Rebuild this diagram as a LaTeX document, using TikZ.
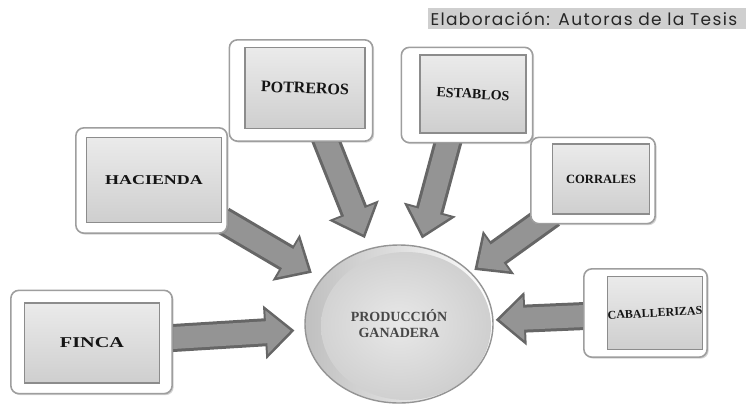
\documentclass[tikz,border=0pt]{standalone}
\usepackage{fontspec}
\setmainfont{Liberation Serif}
\newfontfamily\capfont[LetterSpace=8]{Poppins}
\usetikzlibrary{arrows.meta,shapes.geometric,shadows}
\pgfdeclarelayer{arrowlayer}
\pgfdeclarelayer{framelayer}
\pgfsetlayers{arrowlayer,framelayer,main}
\begin{document}
\begin{tikzpicture}[x=1pt,y=-1pt,
  face/.style={rectangle, inner sep=0pt, top color=black!8, bottom color=black!19,
    draw=black!45, line width=1.3pt, font=\bfseries, text=black!92},
  frame/.style={fill=white, draw=black!38, line width=1.6pt, rounded corners=8pt,
    drop shadow={opacity=0.35, shadow xshift=1.5pt, shadow yshift=-1.5pt}},
  fatout/.style={draw=black!60, line width=28pt, -{Triangle[length=30pt,width=52pt]}},
  fatin/.style={draw=black!42, line width=22pt, -{Triangle[length=24pt,width=42pt]}},
  hub/.style={ellipse, minimum width=188pt, minimum height=158pt, inner sep=0pt,
    left color=black!25, right color=white, draw=black!42, line width=1.4pt,
    path picture={\shade[inner color=black!9, outer color=black!19]
      ([xshift=7pt,yshift=-2pt]path picture bounding box.center)
      ellipse [x radius=85pt, y radius=74pt];},
    font=\fontsize{14}{16}\selectfont\bfseries, text=black!72, align=center},
  capbox/.style={fill=black!19, minimum height=21pt, text width=313pt, inner xsep=2.5pt,
    inner ysep=0pt, align=left, font=\capfont\fontsize{17}{18}\selectfont, text=black!85}
]
\useasboundingbox (0,0) rectangle (746,405);

% caption
\node[capbox] (cap) at (587,18.5) {Elaboración: Autoras de la Tesis};

% faces (named nodes)
\node[face, minimum width=135pt, minimum height=80pt] (finca) at (92,343)
  {\fontsize{15}{18}\selectfont\scalebox{1.35}[1]{FINCA}};
\node[face, minimum width=135pt, minimum height=85pt] (hacienda) at (154,180)
  {\fontsize{13.5}{16}\selectfont\scalebox{1.33}[1]{HACIENDA}};
\node[face, minimum width=120pt, minimum height=81pt] (potreros) at (305,88)
  {\fontsize{16}{18}\selectfont\rotatebox{-2}{POTREROS}};
\node[face, minimum width=106pt, minimum height=78pt] (establos) at (473,94)
  {\fontsize{14}{16}\selectfont\rotatebox{-3}{ESTABLOS}};
\node[face, minimum width=97pt, minimum height=70pt] (corrales) at (601,179)
  {\fontsize{12.6}{15}\selectfont CORRALES};
\node[face, minimum width=95pt, minimum height=73pt] (caballerizas) at (655,313)
  {\fontsize{12}{14}\selectfont\rotatebox{3}{CABALLERIZAS}};

% hub
\node[hub] (prod) at (399,324) {PRODUCCIÓN\\GANADERA};

% frames behind faces
\begin{pgfonlayer}{framelayer}
  \draw[frame] ([shift={(-13,-12)}]finca.north west) rectangle ([shift={(12,10)}]finca.south east);
  \draw[frame] ([shift={(-10,-9)}]hacienda.north west) rectangle ([shift={(5,10)}]hacienda.south east);
  \draw[frame] ([shift={(-15,-7)}]potreros.north west) rectangle ([shift={(7,12)}]potreros.south east);
  \draw[frame] ([shift={(-18,-7)}]establos.north west) rectangle ([shift={(6,9)}]establos.south east);
  \draw[frame] ([shift={(-21,-6)}]corrales.north west) rectangle ([shift={(5,9)}]corrales.south east);
  \draw[frame] ([shift={(-23,-7)}]caballerizas.north west) rectangle ([shift={(4,7)}]caballerizas.south east);
\end{pgfonlayer}

% fat arrows behind everything
\begin{pgfonlayer}{arrowlayer}
  \draw[fatout, shorten >=10pt] (finca) -- (prod);
  \draw[fatin, shorten >=14pt] (finca) -- (prod);
  \draw[fatout, shorten >=11pt] (hacienda) -- (prod);
  \draw[fatin, shorten >=15pt] (hacienda) -- (prod);
  \draw[fatout, shorten >=11pt] (potreros) -- (prod);
  \draw[fatin, shorten >=15pt] (potreros) -- (prod);
  \draw[fatout, shorten >=8pt] ([xshift=-12pt]establos.center) -- (prod);
  \draw[fatin, shorten >=12pt] ([xshift=-12pt]establos.center) -- (prod);
  \draw[fatout, shorten >=4pt] (corrales) -- (prod);
  \draw[fatin, shorten >=8pt] (corrales) -- (prod);
  \draw[fatout, shorten >=2pt] (caballerizas) -- (prod);
  \draw[fatin, shorten >=6pt] (caballerizas) -- (prod);
\end{pgfonlayer}
\end{tikzpicture}
\end{document}
